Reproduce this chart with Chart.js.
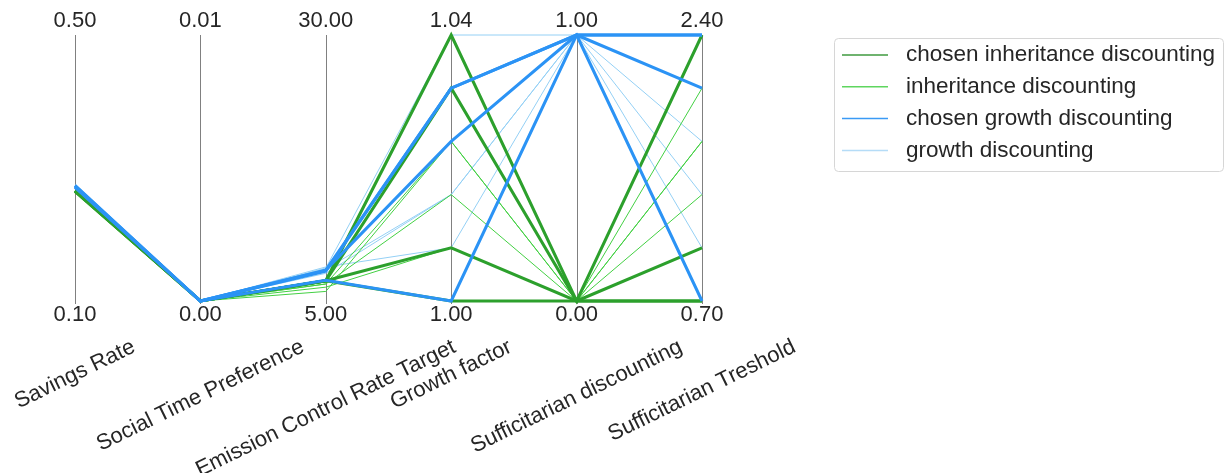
<!DOCTYPE html>
<html>
<head>
<meta charset="utf-8">
<script src="https://cdn.jsdelivr.net/npm/chart.js@4"></script>
<style>
  body { margin: 0; background: #fff; }
  canvas { display: block; }
</style>
</head>
<body>
<canvas id="pcp" width="1225" height="473"></canvas>
<script>
// axis names and their ranges (bottom / top)
const axisNames = ['Savings Rate', 'Social Time Preference', 'Emission Control Rate Target',
                   'Growth factor', 'Sufficitarian discounting', 'Sufficitarian Treshold'];
const axisMin = [0.10, 0.00, 5.00, 1.00, 0.00, 0.70];
const axisMax = [0.50, 0.01, 30.00, 1.04, 1.00, 2.40];

// one row per policy: values on each axis
const chosenInheritance = [
    [0.266, 0.0, 6.9, 1.040, 0, 2.40],
    [0.266, 0.0, 6.9, 1.032, 0, 1.04],
    [0.265, 0.0, 6.9, 1.008, 0, 0.70],
    [0.265, 0.0, 6.9, 1.000, 0, 0.70]
];
const inheritance = [
    [0.264, 0.0, 5.9, 1.024, 0, 2.06],
    [0.265, 0.0, 6.6, 1.016, 0, 1.72],
    [0.265, 0.0, 6.6, 1.024, 0, 1.38],
    [0.266, 0.0, 6.3, 1.008, 0, 1.72],
    [0.266, 0.0, 6.8, 1.040, 0, 1.04]
];
const chosenGrowth = [
    [0.274, 0.0, 7.9, 1.032, 1, 2.40],
    [0.273, 0.0, 7.8, 1.032, 1, 2.06],
    [0.272, 0.0, 7.9, 1.024, 1, 0.70],
    [0.271, 0.0, 6.95, 1.000, 1, 2.40]
];
const growth = [
    [0.275, 0.0, 8.1, 1.040, 1, 2.40],
    [0.273, 0.0, 8.0, 1.016, 1, 1.72],
    [0.272, 0.0, 7.6, 1.016, 1, 1.38],
    [0.274, 0.0, 8.2, 1.008, 1, 1.04]
];

const groups = [
    { label: 'chosen growth discounting', rows: chosenGrowth, color: '#2b93f5', width: 3 },
    { label: 'chosen inheritance discounting', rows: chosenInheritance, color: '#2ca02c', width: 3 },
    { label: 'inheritance discounting', rows: inheritance, color: '#43d043', width: 1 },
    { label: 'growth discounting', rows: growth, color: '#94d0f5', width: 1 }
];
const legendOrder = [1, 2, 0, 3];
const legendColors = ['#3f9a3f', '#5fd65f', '#3a9af5', '#b5dcf7'];
const textColor = '#262626';
const fontFam = '"Liberation Sans", Arial, sans-serif';

// normalise each value against its own axis range
function toPoints(row) {
    return row.map((v, i) => ({ x: i, y: (v - axisMin[i]) / (axisMax[i] - axisMin[i]) }));
}

const datasets = [];
groups.forEach(g => {
    g.rows.forEach(r => {
        datasets.push({
            label: g.label,
            data: toPoints(r),
            borderColor: g.color,
            borderWidth: g.width,
            pointRadius: 0,
            tension: 0,
            clip: false
        });
    });
});

const pcpPlugin = {
    id: 'pcp',
    beforeDatasetsDraw(chart) {
        const c = chart.ctx, xs = chart.scales.x, ys = chart.scales.y;
        c.save();
        c.strokeStyle = '#808080';
        c.lineWidth = 1;
        axisNames.forEach((n, i) => {
            const px = Math.round(xs.getPixelForValue(i)) + 0.5;
            c.beginPath();
            c.moveTo(px, ys.getPixelForValue(1));
            c.lineTo(px, ys.getPixelForValue(0) + 3);
            c.stroke();
        });
        c.restore();
    },
    afterDraw(chart) {
        const c = chart.ctx, xs = chart.scales.x, ys = chart.scales.y;
        c.save();
        c.fillStyle = textColor;
        c.font = '22px ' + fontFam;
        c.textAlign = 'center';
        c.textBaseline = 'middle';
        axisNames.forEach((n, i) => {
            const px = xs.getPixelForValue(i);
            c.fillText(axisMax[i].toFixed(2), px, ys.getPixelForValue(1) - 14);
            c.fillText(axisMin[i].toFixed(2), px, ys.getPixelForValue(0) + 14);
        });

        // rotated axis names, centred under each axis
        const ang = 26 * Math.PI / 180;
        axisNames.forEach((n, i) => {
            const px = xs.getPixelForValue(i);
            const w = c.measureText(n).width;
            const h = 24;
            const bh = w * Math.sin(ang) + h * Math.cos(ang);
            c.save();
            c.translate(px, 335 + bh / 2);
            c.rotate(-ang);
            c.fillText(n, 0, 0);
            c.restore();
        });

        // legend
        const lx = 834, ly = 38, lw = 390, lh = 133;
        c.beginPath();
        c.roundRect(lx + 0.5, ly + 0.5, lw - 1, lh, 4);
        c.fillStyle = 'rgba(255,255,255,0.8)';
        c.fill();
        c.strokeStyle = '#d6d6d6';
        c.lineWidth = 1;
        c.stroke();
        c.font = '22.5px ' + fontFam;
        c.textAlign = 'left';
        legendOrder.forEach((gi, k) => {
            const g = groups[gi];
            const y = 55 + k * 31.8;
            c.strokeStyle = legendColors[k];
            c.lineWidth = 1.5;
            c.beginPath();
            c.moveTo(842, y);
            c.lineTo(888, y);
            c.stroke();
            c.fillStyle = textColor;
            c.fillText(g.label, 906, y);
        });
        c.restore();
    }
};

new Chart(document.getElementById('pcp').getContext('2d'), {
    type: 'line',
    data: { datasets: datasets },
    options: {
        responsive: false,
        animation: false,
        layout: { padding: { left: 75, right: 523, top: 35, bottom: 172 } },
        scales: {
            x: { type: 'linear', min: 0, max: 5, display: false },
            y: { type: 'linear', min: 0, max: 1, display: false }
        },
        plugins: {
            legend: { display: false },
            tooltip: { enabled: false }
        }
    },
    plugins: [pcpPlugin]
});
</script>
</body>
</html>
